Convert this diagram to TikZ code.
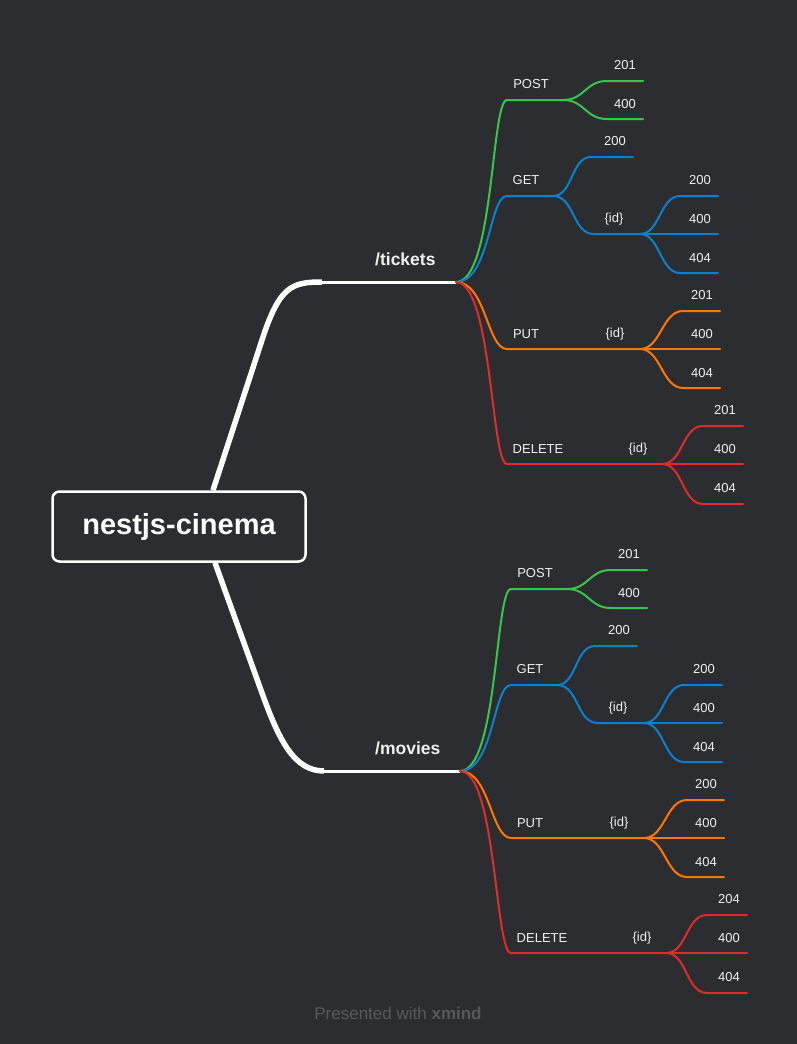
\documentclass[tikz,border=0pt]{standalone}
\usepackage{fontspec}
\setmainfont{Liberation Sans}
\usetikzlibrary{calc}
\definecolor{bg}{RGB}{44,45,49}
\definecolor{cgreen}{RGB}{52,199,74}
\definecolor{cblue}{RGB}{10,128,206}
\definecolor{corange}{RGB}{255,119,0}
\definecolor{cred}{RGB}{222,44,44}
\definecolor{ctext}{RGB}{240,240,240}
\definecolor{cfoot}{RGB}{88,89,94}
\tikzset{
  lbl/.style={inner sep=0pt, text=ctext, font=\fontsize{13}{15}\selectfont},
  toplbl/.style={inner sep=0pt, text=ctext, anchor=west, font=\bfseries\fontsize{17.5}{20}\selectfont},
  br/.style={line width=2pt, line cap=round},
  gbr/.style={br, cgreen}, bbr/.style={br, cblue}, obr/.style={br, corange}, rbr/.style={br, cred},
  mainbr/.style={white, line width=5.5pt},
  mainline/.style={white, line width=3pt},
}
\newcommand\apitree[3]{%
  \coordinate (#1o) at (456,282);
  % POST
  \coordinate (#1post-a) at (507,100); \coordinate (#1post-b) at (563,100);
  \node[lbl] (#1post) at (531,84) {POST};
  \coordinate (#1post1-a) at (607,81); \coordinate (#1post1-b) at (643,81);
  \node[lbl] (#1post1) at (625,65) {201};
  \coordinate (#1post2-a) at (607,119); \coordinate (#1post2-b) at (643,119);
  \node[lbl] (#1post2) at (625,104) {400};
  % GET
  \coordinate (#1get-a) at (507,196); \coordinate (#1get-b) at (553,196);
  \node[lbl] (#1get) at (526,180) {GET};
  \coordinate (#1get1-a) at (591,157); \coordinate (#1get1-b) at (633,157);
  \node[lbl] (#1get1) at (615,141) {200};
  \coordinate (#1getid-a) at (594,234); \coordinate (#1getid-b) at (640,234);
  \node[lbl] (#1getid) at (614,219) {\{id\}};
  \coordinate (#1getid1-a) at (680,196); \coordinate (#1getid1-b) at (718,196);
  \node[lbl] (#1getid1) at (700,180) {200};
  \coordinate (#1getid2-b) at (718,234);
  \node[lbl] (#1getid2) at (700,219) {400};
  \coordinate (#1getid3-a) at (680,273); \coordinate (#1getid3-b) at (718,273);
  \node[lbl] (#1getid3) at (700,258) {404};
  % PUT
  \coordinate (#1put-a) at (507,349); \coordinate (#1put-b) at (547,349);
  \node[lbl] (#1put) at (526,334) {PUT};
  \coordinate (#1putid-b) at (640,349);
  \node[lbl] (#1putid) at (615,334) {\{id\}};
  \coordinate (#1putid1-a) at (683,311); \coordinate (#1putid1-b) at (720,311);
  \node[lbl] (#1putid1) at (702,295) {#2};
  \coordinate (#1putid2-b) at (720,349);
  \node[lbl] (#1putid2) at (702,334) {400};
  \coordinate (#1putid3-a) at (683,388); \coordinate (#1putid3-b) at (720,388);
  \node[lbl] (#1putid3) at (702,373) {404};
  % DELETE
  \coordinate (#1del-a) at (507,464); \coordinate (#1del-b) at (572,464);
  \node[lbl] (#1del) at (538,449) {DELETE};
  \coordinate (#1delid-b) at (662,464);
  \node[lbl] (#1delid) at (638,449) {\{id\}};
  \coordinate (#1delid1-a) at (703,426); \coordinate (#1delid1-b) at (743,426);
  \node[lbl] (#1delid1) at (725,410) {#3};
  \coordinate (#1delid2-b) at (743,464);
  \node[lbl] (#1delid2) at (725,449) {400};
  \coordinate (#1delid3-a) at (703,504); \coordinate (#1delid3-b) at (743,504);
  \node[lbl] (#1delid3) at (725,488) {404};
  % connectors
  \draw[gbr] (#1o) .. controls +(38,0) and +(-16,0) .. (#1post-a) -- (#1post-b);
  \draw[gbr] (#1post-b) .. controls +(22,0) and +(-22,0) .. (#1post1-a) -- (#1post1-b);
  \draw[gbr] (#1post-b) .. controls +(22,0) and +(-22,0) .. (#1post2-a) -- (#1post2-b);
  \draw[bbr] (#1o) .. controls +(34,0) and +(-18,0) .. (#1get-a) -- (#1get-b);
  \draw[bbr] (#1get-b) .. controls +(20,0) and +(-20,0) .. (#1get1-a) -- (#1get1-b);
  \draw[bbr] (#1get-b) .. controls +(22,0) and +(-22,0) .. (#1getid-a) -- (#1getid-b);
  \draw[bbr] (#1getid-b) .. controls +(20,0) and +(-20,0) .. (#1getid1-a) -- (#1getid1-b);
  \draw[bbr] (#1getid-b) -- (#1getid2-b);
  \draw[bbr] (#1getid-b) .. controls +(20,0) and +(-20,0) .. (#1getid3-a) -- (#1getid3-b);
  \draw[obr] (#1o) .. controls +(30,0) and +(-20,0) .. (#1put-a) -- (#1put-b) -- (#1putid-b);
  \draw[obr] (#1putid-b) .. controls +(21,0) and +(-21,0) .. (#1putid1-a) -- (#1putid1-b);
  \draw[obr] (#1putid-b) -- (#1putid2-b);
  \draw[obr] (#1putid-b) .. controls +(21,0) and +(-21,0) .. (#1putid3-a) -- (#1putid3-b);
  \draw[rbr] (#1o) .. controls +(36,0) and +(-16,0) .. (#1del-a) -- (#1del-b) -- (#1delid-b);
  \draw[rbr] (#1delid-b) .. controls +(21,0) and +(-21,0) .. (#1delid1-a) -- (#1delid1-b);
  \draw[rbr] (#1delid-b) -- (#1delid2-b);
  \draw[rbr] (#1delid-b) .. controls +(21,0) and +(-21,0) .. (#1delid3-a) -- (#1delid3-b);
}
\begin{document}
\begin{tikzpicture}[x=1pt,y=-1pt]
\fill[bg] (0,0) rectangle (797,1044);
\useasboundingbox (0,0) rectangle (797,1044);
% root
\node[draw=white, line width=2.5pt, rounded corners=7pt, fill=bg, minimum width=253pt, minimum height=70pt, inner sep=0pt, text=white, font=\bfseries\fontsize{29}{32}\selectfont] (root) at (179,526.5) {nestjs-cinema};
\coordinate (rt) at ($(root.north)+(34,0)$);
\coordinate (rb) at ($(root.south)+(36,0)$);
% tickets
\coordinate (tk-knee) at (262,340);
\coordinate (tk-bend) at (322,282);
\coordinate (tk) at (456,282);
\draw[mainbr, line join=round] (rt) -- (tk-knee) .. controls (279.5,286) and (292,282) .. (tk-bend);
\draw[mainline] (318,282) -- (tk);
\node[toplbl] (tickets) at (375,259) {/tickets};
\apitree{t}{201}{201}
% movies
\coordinate (mv-knee) at (262,693);
\coordinate (mv-bend) at (324,771);
\coordinate (mv) at (460,771);
\draw[mainbr, line join=round] (rb) -- (mv-knee) .. controls (279,740) and (294,771) .. (mv-bend);
\draw[mainline] (320,771) -- (mv);
\node[toplbl] (movies) at (375,748) {/movies};
\begin{scope}[shift={(4,489)}]
\apitree{m}{200}{204}
\end{scope}
\node[text=cfoot, inner sep=0pt, font=\fontsize{17}{20}\selectfont] (foot) at (398,1013) {Presented with \textbf{xmind}};
\end{tikzpicture}
\end{document}
